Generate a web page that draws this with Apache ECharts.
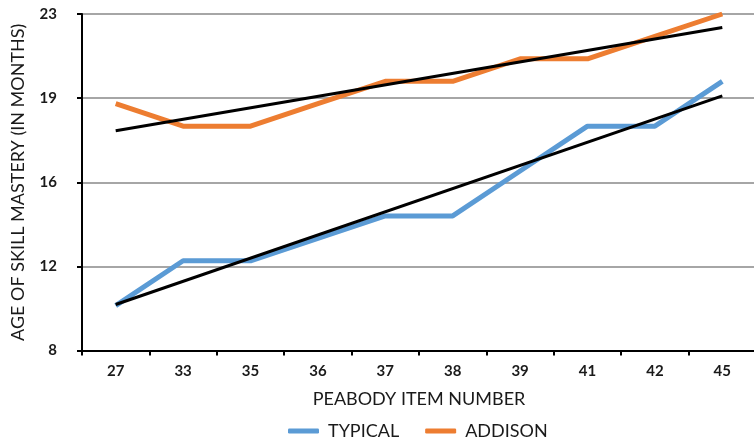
<!DOCTYPE html>
<html>
<head>
<meta charset="utf-8">
<script src="https://cdn.jsdelivr.net/npm/echarts@6/dist/echarts.min.js"></script>
<style>
  html, body { margin: 0; padding: 0; background: #fff; }
  #chart { width: 754px; height: 442px; }
</style>
</head>
<body>
<div id="chart"></div>
<script>
// peabody items on the x axis
var items = ['27', '33', '35', '36', '37', '38', '39', '41', '42', '45'];
// age of mastery in months
var typical = [10, 12, 12, 13, 14, 14, 16, 18, 18, 20];
var addison = [19, 18, 18, 19, 20, 20, 21, 21, 22, 23];
// trend lines, read at first and last item only
var typicalTrend = [10.05, null, null, null, null, null, null, null, null, 19.35];
var addisonTrend = [17.8, null, null, null, null, null, null, null, null, 22.4];
// y ticks sit at even spacing, labels are rounded
var yTicks = [8, 11.75, 15.5, 19.25, 23];
var yTickLabels = ['8', '12', '16', '19', '23'];

var font = 'Lato, "Noto Sans", sans-serif';
var chart = echarts.init(document.getElementById('chart'), null, { renderer: 'canvas' });

var option = {
    animation: false,
    textStyle: { fontFamily: font },
    grid: {
        left: 82,
        right: -2,
        top: 14,
        bottom: 91.5,
        outerBoundsMode: 'none'
    },
    legend: {
        data: ['TYPICAL', 'ADDISON'],
        bottom: -3,
        left: 283,
        icon: 'roundRect',
        itemWidth: 31,
        itemHeight: 5,
        itemGap: 26,
        textStyle: {
            fontFamily: font,
            fontSize: 18,
            color: '#1a1a1a',
            padding: [0, 0, 0, 4]
        }
    },
    xAxis: {
        type: 'category',
        data: items,
        boundaryGap: true,
        name: 'PEABODY ITEM NUMBER',
        nameLocation: 'middle',
        nameGap: 40,
        nameTextStyle: { fontFamily: font, fontSize: 18, color: '#1a1a1a' },
        axisLine: { lineStyle: { color: '#000', width: 2 } },
        axisTick: { show: true, length: 5, lineStyle: { color: '#000', width: 2 } },
        axisLabel: { fontFamily: font, fontSize: 15, fontWeight: 'bold', color: '#1a1a1a', margin: 13 },
        splitLine: { show: false }
    },
    yAxis: {
        type: 'value',
        min: 8,
        max: 23,
        name: 'AGE OF SKILL MASTERY (IN MONTHS)',
        nameLocation: 'middle',
        nameGap: 55,
        nameTextStyle: { fontFamily: font, fontSize: 18, color: '#1a1a1a' },
        axisLine: { show: true, lineStyle: { color: '#000', width: 2 } },
        axisTick: {
            show: true,
            length: 5,
            customValues: yTicks,
            lineStyle: { color: '#000', width: 2 }
        },
        axisLabel: {
            fontFamily: font,
            fontSize: 15,
            fontWeight: 'bold',
            color: '#1a1a1a',
            margin: 25,
            customValues: yTicks,
            formatter: function (val) {
                var i = yTicks.indexOf(val);
                return i >= 0 ? yTickLabels[i] : '';
            }
        },
        splitLine: { show: true, lineStyle: { color: '#888', width: 1.5 } }
    },
    series: [{
        name: 'TYPICAL',
        type: 'line',
        data: typical,
        symbol: 'none',
        color: '#5b9bd5',
        lineStyle: { width: 5, color: '#5b9bd5' },
        z: 2
    }, {
        name: 'ADDISON',
        type: 'line',
        data: addison,
        symbol: 'none',
        color: '#ed7d31',
        lineStyle: { width: 5, color: '#ed7d31' },
        z: 2
    }, {
        name: 'typical trend',
        type: 'line',
        data: typicalTrend,
        connectNulls: true,
        symbol: 'none',
        lineStyle: { width: 3, color: '#000' },
        z: 3
    }, {
        name: 'addison trend',
        type: 'line',
        data: addisonTrend,
        connectNulls: true,
        symbol: 'none',
        lineStyle: { width: 3, color: '#000' },
        z: 3
    }]
};

chart.setOption(option);
</script>
</body>
</html>
